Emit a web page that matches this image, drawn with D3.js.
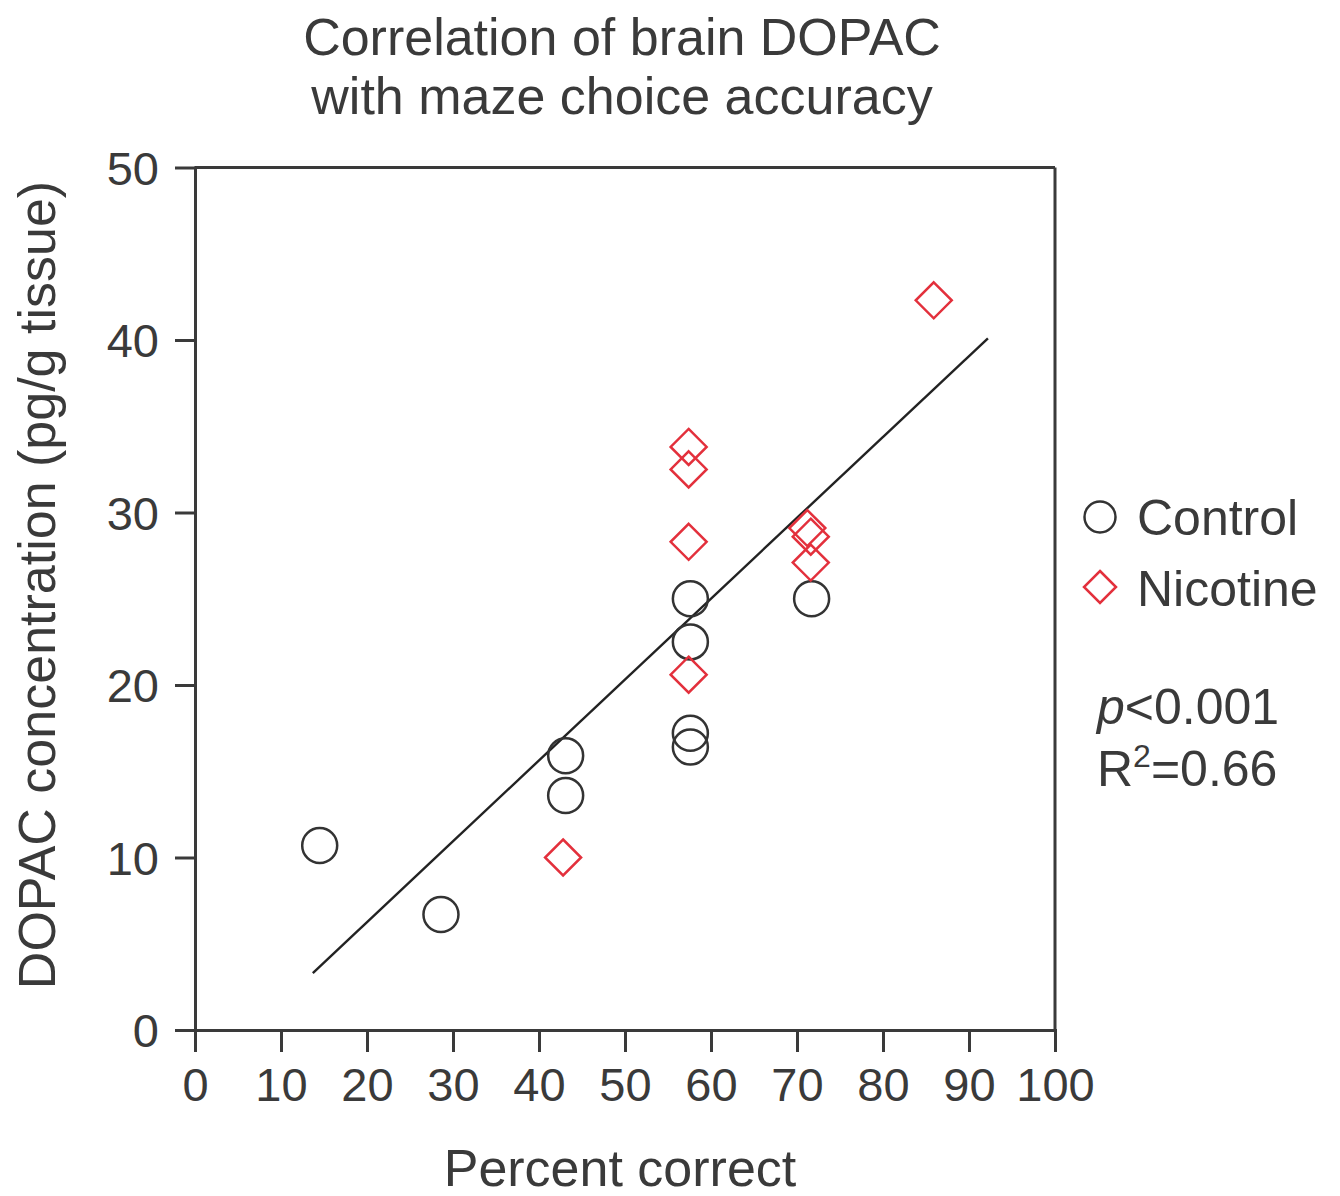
<!DOCTYPE html>
<meta charset="utf-8">
<script src="https://d3js.org/d3.v7.min.js"></script>
<style>
body {margin: 0; background: #fff;}
text {font-family: "Liberation Sans", Arial, sans-serif; fill: #3a3a3a;}
.axis path, .axis line {stroke: #3a3a3a; stroke-width: 3;}
.axis text {font-size: 47px; fill: #3a3a3a;}
.control {fill: none; stroke: #333; stroke-width: 2.5;}
.nicotine {fill: none; stroke: #e3303c; stroke-width: 2.5;}
.fit {stroke: #222; stroke-width: 2.4; fill: none;}
</style>
<div id="vis"></div>
<script>

// data
var controlX = [14.5, 28.6, 43.1, 43.1, 57.6, 57.6, 57.6, 57.6, 71.7];
var controlY = [10.7, 6.7, 15.9, 13.6, 25.0, 22.5, 17.2, 16.4, 25.0];

var nicotineX = [42.8, 57.4, 57.4, 57.4, 57.4, 71.2, 71.6, 71.6, 85.9];
var nicotineY = [10.0, 33.8, 32.5, 28.3, 20.6, 29.1, 28.6, 27.1, 42.3];

var fitX = [13.7, 92.2];
var fitY = [3.3, 40.1];

var xTicks = [0, 10, 20, 30, 40, 50, 60, 70, 80, 90, 100];
var yTicks = [0, 10, 20, 30, 40, 50];

var titleLines = ["Correlation of brain DOPAC", "with maze choice accuracy"];
var legendNames = ["Control", "Nicotine"];

var w = 1340, h = 1196;
var margin = {top: 167.5, right: 285, bottom: 166, left: 195};
var width = w - margin.left - margin.right,
    height = h - margin.top - margin.bottom;

var svg = d3.select("#vis").append("svg")
    .attr("width", w)
    .attr("height", h);

var g = svg.append("g")
    .attr("transform", "translate(" + margin.left + "," + margin.top + ")");

var x = d3.scaleLinear().domain([0, 100]).range([0, width]);
var y = d3.scaleLinear().domain([0, 50]).range([height, 0]);

// frame: top and right plain lines
g.append("line").attr("class", "frame")
    .attr("x1", x(0)).attr("x2", x(100)).attr("y1", y(50)).attr("y2", y(50))
    .attr("stroke", "#3a3a3a").attr("stroke-width", 3);
g.append("line").attr("class", "frame")
    .attr("x1", x(100)).attr("x2", x(100)).attr("y1", y(50)).attr("y2", y(0))
    .attr("stroke", "#3a3a3a").attr("stroke-width", 3);

// axes
g.append("g")
    .attr("class", "axis axis-y")
    .call(d3.axisLeft(y).tickValues(yTicks).tickSize(20).tickSizeOuter(0).tickPadding(16))
    .selectAll("text").attr("dy", "0.36em");

g.append("g")
    .attr("class", "axis axis-x")
    .attr("transform", "translate(0," + height + ")")
    .call(d3.axisBottom(x).tickValues(xTicks).tickSize(22).tickSizeOuter(0).tickPadding(16));

g.selectAll(".axis .domain").attr("stroke-linecap", "square");

// regression line
g.append("line")
    .attr("class", "fit")
    .attr("x1", x(fitX[0])).attr("y1", y(fitY[0]))
    .attr("x2", x(fitX[1])).attr("y2", y(fitY[1]));

// control circles
g.selectAll(".control")
    .data(controlX.map(function(d, i) { return [d, controlY[i]]; }))
  .enter().append("circle")
    .attr("class", "control")
    .attr("cx", function(d) { return x(d[0]); })
    .attr("cy", function(d) { return y(d[1]); })
    .attr("r", 17.5);

// nicotine diamonds
var diamond = function(s) {
  return "M0," + (-s) + "L" + s + ",0L0," + s + "L" + (-s) + ",0Z";
};
g.selectAll(".nicotine")
    .data(nicotineX.map(function(d, i) { return [d, nicotineY[i]]; }))
  .enter().append("path")
    .attr("class", "nicotine")
    .attr("d", diamond(18))
    .attr("transform", function(d) { return "translate(" + x(d[0]) + "," + y(d[1]) + ")"; });

// title
svg.selectAll(".title")
    .data(titleLines)
  .enter().append("text")
    .attr("class", "title")
    .attr("x", 622)
    .attr("y", function(d, i) { return 55 + i * 59; })
    .attr("text-anchor", "middle")
    .style("font-size", "52px")
    .text(function(d) { return d; });

// axis labels
svg.append("text")
    .attr("x", 620).attr("y", 1186)
    .attr("text-anchor", "middle")
    .style("font-size", "52px")
    .text("Percent correct");

svg.append("text")
    .attr("transform", "translate(55,585) rotate(-90)")
    .attr("text-anchor", "middle")
    .style("font-size", "52px")
    .text("DOPAC concentration (pg/g tissue)");

// legend
var leg = svg.append("g").attr("class", "legend");
leg.append("circle").attr("class", "control")
    .attr("cx", 1100).attr("cy", 517).attr("r", 15.5);
leg.append("path").attr("class", "nicotine")
    .attr("d", diamond(16))
    .attr("transform", "translate(1100,587)");
leg.selectAll(".leg-text")
    .data(legendNames)
  .enter().append("text")
    .attr("class", "leg-text")
    .attr("x", 1137)
    .attr("y", function(d, i) { return 535 + i * 71; })
    .style("font-size", "50px")
    .text(function(d) { return d; });

// stats
var p = svg.append("text").attr("x", 1097).attr("y", 724).style("font-size", "50px");
p.append("tspan").style("font-style", "italic").text("p");
p.append("tspan").text("<0.001");

var r = svg.append("text").attr("x", 1097).attr("y", 786).style("font-size", "50px");
r.append("tspan").text("R");
r.append("tspan").attr("dy", "-19").style("font-size", "32px").text("2");
r.append("tspan").attr("dy", "19").text("=0.66");

</script>
